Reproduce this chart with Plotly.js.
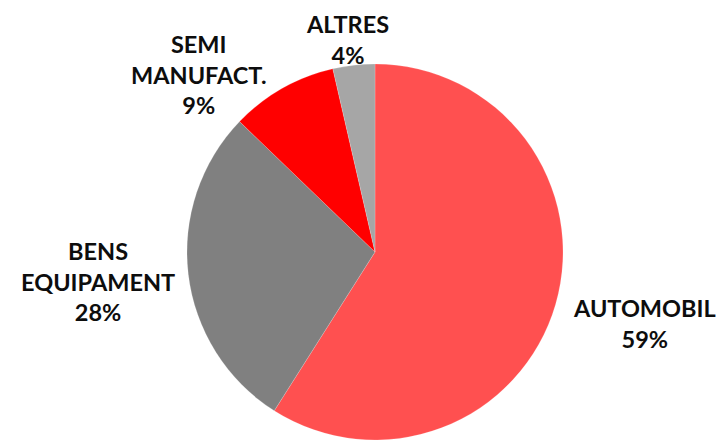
<!DOCTYPE html>
<html>
<head>
<meta charset="utf-8">
<script src="https://cdn.plot.ly/plotly-3.0.1.min.js"></script>
<style>
    html, body { margin: 0; padding: 0; background: #ffffff; }
    #chart { width: 723px; height: 441px; }
</style>
</head>
<body>
<div id="chart"></div>
<script>
var categories = ['AUTOMOBIL', 'BENS<br>EQUIPAMENT', 'SEMI<br>MANUFACT.', 'ALTRES'];
var shares = [59.0, 28.2, 9.2, 3.6];
var sliceColors = ['#ff5050', '#808080', '#ff0000', '#a6a6a6'];

// where each outside label sits (paper coords)
var labelX = [0.891, 0.136, 0.275, 0.480];
var labelY = [0.266, 0.361, 0.832, 0.910];

function drawPie() {
    var trace = {
        type: 'pie',
        labels: categories,
        values: shares,
        sort: false,
        direction: 'clockwise',
        rotation: 0,
        textinfo: 'none',
        hoverinfo: 'label+percent',
        marker: {
            colors: sliceColors,
            line: { color: 'rgba(255,255,255,0.35)', width: 0.5 }
        },
        domain: {
            x: [187 / 723, 563 / 723],
            y: [1 / 441, 377 / 441]
        }
    };

    var total = shares.reduce(function (a, b) { return a + b; }, 0);
    var annotations = categories.map(function (name, i) {
        return {
            xref: 'paper',
            yref: 'paper',
            x: labelX[i],
            y: labelY[i],
            xanchor: 'center',
            yanchor: 'middle',
            showarrow: false,
            align: 'center',
            text: '<b>' + name + '<br>' + Math.round(shares[i] / total * 100) + '%</b>',
            font: { family: 'Lato, sans-serif', size: 23.5, color: '#0d0d0d' }
        };
    });

    var layout = {
        width: 723,
        height: 441,
        margin: { l: 0, r: 0, t: 0, b: 0 },
        paper_bgcolor: '#ffffff',
        showlegend: false,
        annotations: annotations
    };

    Plotly.newPlot('chart', [trace], layout, { displayModeBar: false, staticPlot: true });
}

drawPie();
</script>
</body>
</html>
